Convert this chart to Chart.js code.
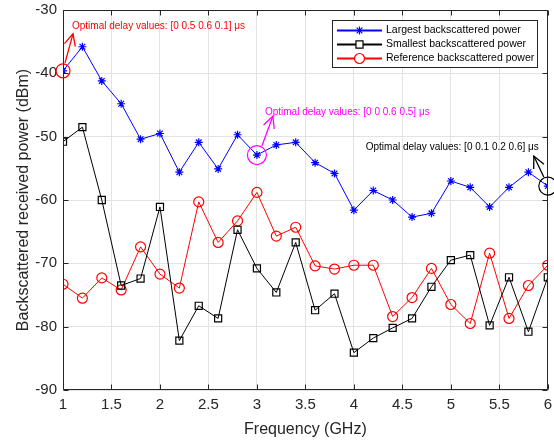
<!DOCTYPE html>
<html>
<head>
<meta charset="utf-8">
<script src="https://cdn.jsdelivr.net/npm/chart.js@4.4.1/dist/chart.umd.min.js"></script>
<style>
html,body{margin:0;padding:0;background:#fff;}
#wrap{width:554px;height:441px;}
</style>
</head>
<body>
<div id="wrap"><canvas id="c" width="554" height="441"></canvas></div>
<script>
const freq = [1,1.2,1.4,1.6,1.8,2,2.2,2.4,2.6,2.8,3,3.2,3.4,3.6,3.8,4,4.2,4.4,4.6,4.8,5,5.2,5.4,5.6,5.8,6];
const largest = [-39.6,-35.8,-41.2,-44.8,-50.4,-49.5,-55.6,-50.9,-55.1,-49.7,-52.9,-51.3,-50.9,-54.1,-55.8,-61.6,-58.5,-60.0,-62.7,-62.1,-57.0,-58.0,-61.1,-58.0,-55.6,-57.8];
const smallest = [-50.8,-48.5,-60.0,-73.5,-72.4,-61.1,-82.2,-76.7,-78.7,-64.7,-70.8,-74.6,-66.7,-77.4,-74.8,-84.1,-81.8,-80.2,-78.7,-73.7,-69.5,-68.7,-79.8,-72.2,-80.8,-72.2];
const reference = [-73.3,-75.5,-72.3,-74.2,-67.4,-71.7,-73.9,-60.3,-66.7,-63.3,-58.8,-65.7,-64.3,-70.4,-70.9,-70.3,-70.3,-78.4,-75.4,-70.8,-76.5,-79.5,-68.4,-78.7,-73.5,-70.3];
const seriesNames = ["Largest backscattered power","Smallest backscattered power","Reference backscattered power"];
const xTicks = [1,1.5,2,2.5,3,3.5,4,4.5,5,5.5,6];
const yTicks = [-90,-80,-70,-60,-50,-40,-30];
const notes = [
  {idx:0, text:"Optimal delay values: [0 0.5 0.6 0.1] \u03bcs", color:"#ff0000"},
  {idx:10, text:"Optimal delay values: [0 0 0.6 0.5] \u03bcs", color:"#ff00ff"},
  {idx:25, text:"Optimal delay values: [0 0.1 0.2 0.6] \u03bcs", color:"#000000"}
];

const FONT = "'Liberation Sans', Arial, Helvetica, sans-serif";
const AX = "#262626";

function pts(arr){ return freq.map((f,i)=>({x:f,y:arr[i]})); }

function arrow(ctx, x1,y1,x2,y2,color){
  ctx.save();
  ctx.strokeStyle=color; ctx.lineWidth=1.3;
  ctx.beginPath(); ctx.moveTo(x1,y1); ctx.lineTo(x2,y2); ctx.stroke();
  const a=Math.atan2(y2-y1,x2-x1), L=13, w=0.45;
  ctx.beginPath();
  ctx.moveTo(x2-L*Math.cos(a-w), y2-L*Math.sin(a-w));
  ctx.lineTo(x2,y2);
  ctx.lineTo(x2-L*Math.cos(a+w), y2-L*Math.sin(a+w));
  ctx.stroke();
  ctx.restore();
}

const decor = {
  id:'decor',
  afterDatasetsDraw(chart){
    const ctx=chart.ctx, xs=chart.scales.x, ys=chart.scales.y, ca=chart.chartArea;
    ctx.save();
    ctx.strokeStyle=AX; ctx.lineWidth=1;
    const L=Math.round(ca.left)+0.5, R=Math.round(ca.right)-0.5, T=Math.round(ca.top)+0.5, B=Math.round(ca.bottom)-0.5;
    ctx.beginPath(); ctx.rect(L,T,R-L,B-T); ctx.stroke();
    ctx.beginPath();
    xTicks.forEach(v=>{const px=Math.round(xs.getPixelForValue(v))+0.5; ctx.moveTo(px,B); ctx.lineTo(px,B-5); ctx.moveTo(px,T); ctx.lineTo(px,T+5);});
    yTicks.forEach(v=>{const py=Math.round(ys.getPixelForValue(v))+0.5; ctx.moveTo(L,py); ctx.lineTo(L+5,py); ctx.moveTo(R,py); ctx.lineTo(R-5,py);});
    ctx.stroke();
    ctx.restore();

    const cfg=[
      {r:7,  tail:[2,-8],  tip:[10,-37], tx:9,  ty:-45, align:'left'},
      {r:9.5,tail:[5,-9],  tip:[16,-39], tx:8,  ty:-43, align:'left'},
      {r:9,  tail:[-4,-9], tip:[-14,-30],tx:-9, ty:-39, align:'right'}
    ];
    notes.forEach((n,k)=>{
      const c=cfg[k];
      const cx=xs.getPixelForValue(freq[n.idx]), cy=ys.getPixelForValue(largest[n.idx]);
      ctx.save();
      ctx.strokeStyle=n.color; ctx.lineWidth=1.2;
      ctx.beginPath(); ctx.arc(cx,cy,c.r,0,Math.PI*2); ctx.stroke();
      arrow(ctx, cx+c.tail[0], cy+c.tail[1], cx+c.tip[0], cy+c.tip[1], n.color);
      ctx.fillStyle=n.color; ctx.font="10px "+FONT; ctx.textAlign=c.align; ctx.textBaseline='middle';
      ctx.fillText(n.text, cx+c.tx, cy+c.ty);
      ctx.restore();
    });

    const bx=332.5, by=20.5, bw=205, bh=47;
    ctx.save();
    ctx.fillStyle='#fff'; ctx.fillRect(bx,by,bw,bh);
    ctx.strokeStyle=AX; ctx.lineWidth=1; ctx.strokeRect(bx,by,bw,bh);
    const rows=[30.5,44.5,58.5];
    chart.data.datasets.forEach((ds,i)=>{
      const yy=rows[i];
      ctx.strokeStyle=ds.borderColor; ctx.lineWidth=2;
      ctx.beginPath(); ctx.moveTo(337,yy); ctx.lineTo(382,yy); ctx.stroke();
      ctx.lineWidth=1.2; ctx.strokeStyle=ds.pointBorderColor; ctx.fillStyle='#fff';
      Chart.helpers.drawPoint(ctx,{pointStyle:ds.pointStyle, rotation:0, radius:ds.pointRadius, borderWidth:1.2}, 359.5, yy);
      ctx.fillStyle='#000'; ctx.font="10.5px "+FONT; ctx.textAlign='left'; ctx.textBaseline='middle';
      ctx.fillText(ds.label, 386, yy);
    });
    ctx.restore();
  }
};

const chart = new Chart(document.getElementById('c'), {
  type:'line',
  data:{
    datasets:[
      {label:seriesNames[0], data:pts(largest), borderColor:'#0000ff', backgroundColor:'#0000ff', borderWidth:1, pointStyle:'star', pointRadius:4, pointBorderWidth:1.2, pointBorderColor:'#0000ff', pointBackgroundColor:'#0000ff', tension:0},
      {label:seriesNames[1], data:pts(smallest), borderColor:'#000000', backgroundColor:'#000000', borderWidth:1, pointStyle:'rect', pointRadius:5, pointBorderWidth:1.2, pointBorderColor:'#000000', pointBackgroundColor:'rgba(0,0,0,0)', tension:0},
      {label:seriesNames[2], data:pts(reference), borderColor:'#ff0000', backgroundColor:'#ff0000', borderWidth:1, pointStyle:'circle', pointRadius:5, pointBorderWidth:1.2, pointBorderColor:'#ff0000', pointBackgroundColor:'rgba(0,0,0,0)', tension:0}
    ]
  },
  options:{
    responsive:false, animation:false, devicePixelRatio:1,
    layout:{padding:{top:10,right:5,left:0,bottom:0}},
    plugins:{legend:{display:false}, tooltip:{enabled:false}},
    scales:{
      x:{type:'linear', min:1, max:6,
        afterFit(s){ s.height=51; s.paddingLeft=0; s.paddingRight=0; },
        afterBuildTicks(s){ s.ticks = xTicks.map(v=>({value:v})); },
        grid:{color:'#e3e3e3', lineWidth:1, drawTicks:false},
        border:{display:false},
        ticks:{color:AX, font:{family:FONT,size:15}, padding:6, maxRotation:0, autoSkip:false,
          callback:(v)=>String(v)},
        title:{display:true, text:'Frequency (GHz)', color:AX, font:{family:FONT,size:16}, padding:{top:0,bottom:2}}
      },
      y:{type:'linear', min:-90, max:-30,
        afterFit(s){ s.width=63; s.paddingTop=0; s.paddingBottom=0; },
        afterBuildTicks(s){ s.ticks = yTicks.map(v=>({value:v})); },
        grid:{color:'#e3e3e3', lineWidth:1, drawTicks:false},
        border:{display:false},
        ticks:{color:AX, font:{family:FONT,size:15}, padding:6, autoSkip:false, callback:(v)=>String(v)},
        title:{display:true, text:'Backscattered received power (dBm)', color:AX, font:{family:FONT,size:16}, padding:{top:14,bottom:0}}
      }
    }
  },
  plugins:[decor]
});
</script>
</body>
</html>
